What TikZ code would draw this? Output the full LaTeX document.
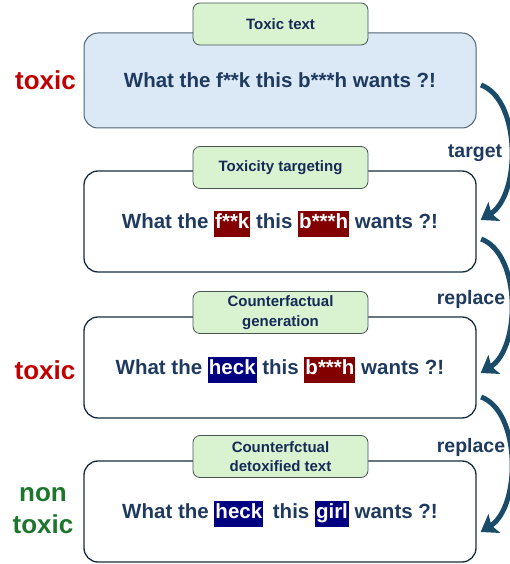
\documentclass[tikz,border=0pt]{standalone}
\usepackage{fontspec}
\setmainfont{Liberation Sans}
\usetikzlibrary{arrows.meta}

\definecolor{txtblue}{RGB}{30,58,95}
\definecolor{tagtext}{RGB}{22,42,88}
\definecolor{boxfill}{RGB}{219,232,245}
\definecolor{boxline}{RGB}{22,44,60}
\definecolor{firstline}{RGB}{80,98,112}
\definecolor{tagfill}{RGB}{217,242,208}
\definecolor{tagline}{RGB}{70,85,80}
\definecolor{badred}{RGB}{130,0,0}
\definecolor{goodblue}{RGB}{0,0,128}
\definecolor{toxred}{RGB}{192,0,0}
\definecolor{nontox}{RGB}{30,118,45}
\definecolor{arrowblue}{RGB}{26,76,106}

\newcommand{\redword}[1]{{\fboxsep=1pt\colorbox{badred}{\strut\textcolor{white}{#1}}}}
\newcommand{\blueword}[1]{{\fboxsep=1pt\colorbox{goodblue}{\strut\textcolor{white}{#1}}}}

\begin{document}
\begin{tikzpicture}[x=1pt, y=1pt,
    textbox/.style={draw=boxline, line width=1.3pt, rounded corners=14pt, minimum width=392pt,
      minimum height=101pt, text height=15pt, text depth=0pt, text=txtblue, font=\bfseries\fontsize{20.5}{24}\selectfont},
    tagbox/.style={draw=tagline, fill=tagfill, line width=0.8pt, rounded corners=7pt, minimum width=175pt,
      minimum height=42pt, inner sep=2pt, align=center, text=tagtext, font=\bfseries\fontsize{15}{19.5}\selectfont},
    side/.style={align=center, font=\bfseries\fontsize{26}{32}\selectfont},
    flow/.style={draw=arrowblue, line width=5pt, -{Stealth[length=16pt, width=22pt, inset=3.5pt]}},
    flowlabel/.style={text=txtblue, font=\bfseries\fontsize{19.5}{22}\selectfont}]
    \useasboundingbox (0,0) rectangle (509,564);

    % the four stages
    \node [textbox, fill=boxfill, draw=firstline, line width=1pt, minimum height=95pt] (t1) at (280,483.5) {What the f**k this b***h wants ?!};
    \node [textbox] (t2) at (280,342.5) {What the \redword{f**k} this \redword{b***h} wants ?!};
    \node [textbox] (t3) at (280,196.5) {What the \blueword{heck} this \redword{b***h} wants ?!};
    \node [textbox] (t4) at (280,52.5) {What the \blueword{heck}\hspace{4pt} this \blueword{girl} wants ?!};

    \node [tagbox] (g1) at (280.5,540) {Toxic text};
    \node [tagbox] (g2) at (280.5,396.5) {Toxicity targeting};
    \node [tagbox] (g3) at (280.5,251.5) {Counterfactual\\generation};
    \node [tagbox] (g4) at (280.5,107.5) {Counterfctual\\detoxified text};

    \node [side, text=toxred] (s1) at (45.5,484) {toxic};
    \node [side, text=toxred] (s3) at (45,194) {toxic};
    \node [side, text=nontox] (s4) at (43,53) {non\\toxic};

    % curved arrows on the right
    \draw [flow] ([shift={(4.5pt,-4.5pt)}]t1.east) .. controls +(40,-15) and +(40,25) .. ([shift={(4pt,1.5pt)}]t2.east);
    \draw [flow] ([shift={(4.5pt,-17.5pt)}]t2.east) .. controls +(40,-15) and +(40,25) .. ([shift={(4pt,-5.5pt)}]t3.east);
    \draw [flow] ([shift={(4.5pt,-29.5pt)}]t3.east) .. controls +(40,-15) and +(40,25) .. ([shift={(4pt,-20.5pt)}]t4.east);

    \node [flowlabel] (l1) at (475,411) {target};
    \node [flowlabel] (l2) at (471,265) {replace};
    \node [flowlabel] (l3) at (471,117) {replace};
\end{tikzpicture}
\end{document}
